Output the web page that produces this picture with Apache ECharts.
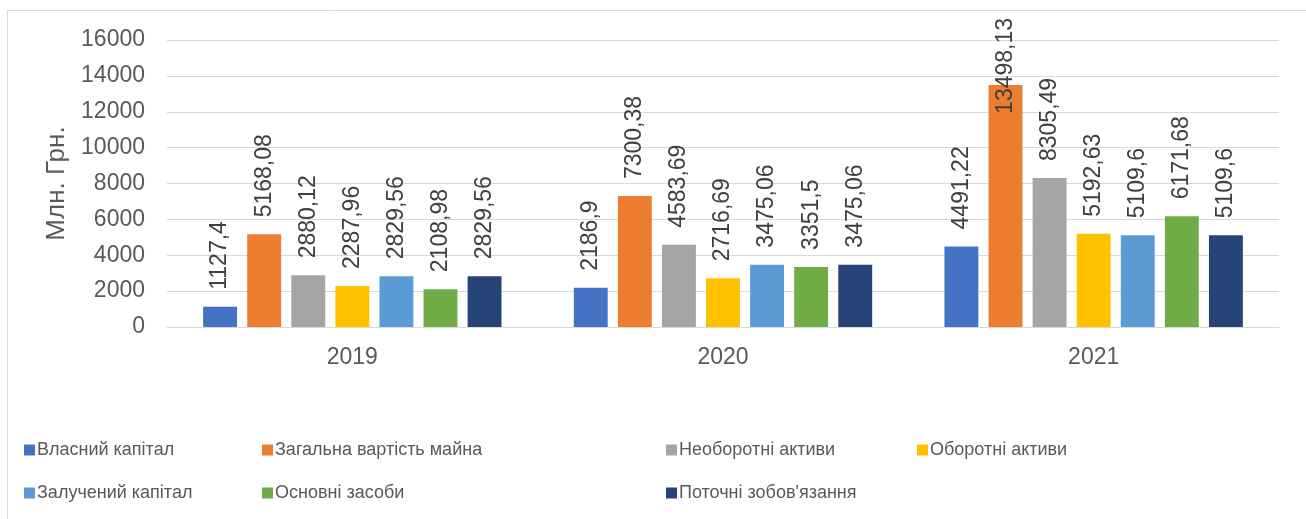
<!DOCTYPE html>
<html>
<head>
    <meta charset="utf-8">
    <title>chart</title>
    <script src="https://cdn.jsdelivr.net/npm/echarts@6/dist/echarts.min.js"></script>
    <style>
        html, body { margin: 0; padding: 0; background: #fff; }
        #main { width: 1306px; height: 519px; }
    </style>
</head>
<body>
    <div id="main"></div>
    <script>
        var years = ['2019', '2020', '2021'];
        var seriesNames = ['Власний капітал', 'Загальна вартість майна', 'Необоротні активи', 'Оборотні активи',
            'Залучений капітал', 'Основні засоби', "Поточні зобов'язання"];
        var colors = ['#4472C4', '#ED7D31', '#A5A5A5', '#FFC000', '#5B9BD5', '#70AD47', '#264478'];
        var vlasnyi = [1127.4, 2186.9, 4491.22];
        var zagalna = [5168.08, 7300.38, 13498.13];
        var neoborotni = [2880.12, 4583.69, 8305.49];
        var oborotni = [2287.96, 2716.69, 5192.63];
        var zaluchenyi = [2829.56, 3475.06, 5109.6];
        var osnovni = [2108.98, 3351.5, 6171.68];
        var potochni = [2829.56, 3475.06, 5109.6];
        var yTicks = [0, 2000, 4000, 6000, 8000, 10000, 12000, 14000, 16000];

        var values = [vlasnyi, zagalna, neoborotni, oborotni, zaluchenyi, osnovni, potochni];
        var font = 'Liberation Sans, Arial, sans-serif';

        // legend columns, as in the picture: 4 columns x 2 rows
        var legendCols = [
            { left: 24, names: [seriesNames[0], seriesNames[4]] },
            { left: 262, names: [seriesNames[1], seriesNames[5]] },
            { left: 666, names: [seriesNames[2], seriesNames[6]] },
            { left: 917, names: [seriesNames[3]] }
        ];

        var myChart = echarts.init(document.getElementById('main'));

        var series = [];
        for (var i = 0; i < seriesNames.length; i++) {
            var data = values[i].map(function (v) {
                // the tallest label does not fit above its bar, it is pushed down into it
                if (v > 13000) {
                    return { value: v, label: { distance: -29 } };
                }
                return v;
            });
            series.push({
                name: seriesNames[i],
                type: 'bar',
                barGap: '30%',
                barCategoryGap: '19.5%',
                itemStyle: { color: colors[i] },
                label: {
                    show: true,
                    position: 'top',
                    distance: 17,
                    rotate: 90,
                    align: 'left',
                    verticalAlign: 'middle',
                    fontFamily: font,
                    fontSize: 23,
                    color: '#404040',
                    formatter: function (p) { return String(p.value).replace('.', ','); }
                },
                data: data
            });
        }

        var legends = legendCols.map(function (c) {
            return {
                orient: 'vertical',
                left: c.left,
                top: 441,
                padding: 0,
                itemWidth: 11,
                itemHeight: 11,
                itemGap: 25,
                icon: 'rect',
                textStyle: { fontFamily: font, fontSize: 18, color: '#595959', padding: [0, 0, 0, -3] },
                data: c.names
            };
        });

        var option = {
            animation: false,
            color: colors,
            graphic: [{
                type: 'rect',
                shape: { x: 7.5, y: 10.5, width: 1310, height: 520 },
                style: { fill: 'none', stroke: '#d9d9d9', lineWidth: 1 },
                silent: true
            }],
            grid: { left: 167, right: 27, top: 40, bottom: 192 },
            legend: legends,
            xAxis: {
                type: 'category',
                data: years,
                axisLine: { lineStyle: { color: '#d9d9d9', width: 1 } },
                axisTick: { show: false },
                axisLabel: { fontFamily: font, fontSize: 23, color: '#595959', margin: 19 }
            },
            yAxis: {
                type: 'value',
                min: yTicks[0],
                max: yTicks[yTicks.length - 1],
                interval: 2000,
                name: 'Млн. Грн.',
                nameLocation: 'middle',
                nameGap: 88,
                nameTextStyle: { fontFamily: font, fontSize: 26, color: '#595959' },
                axisLine: { show: false },
                axisTick: { show: false },
                splitLine: { lineStyle: { color: '#d9d9d9', width: 1 } },
                axisLabel: {
                    fontFamily: font, fontSize: 23, color: '#595959', margin: 22,
                    formatter: function (v) { return String(v); }
                }
            },
            series: series
        };
        myChart.setOption(option);
    </script>
</body>
</html>
